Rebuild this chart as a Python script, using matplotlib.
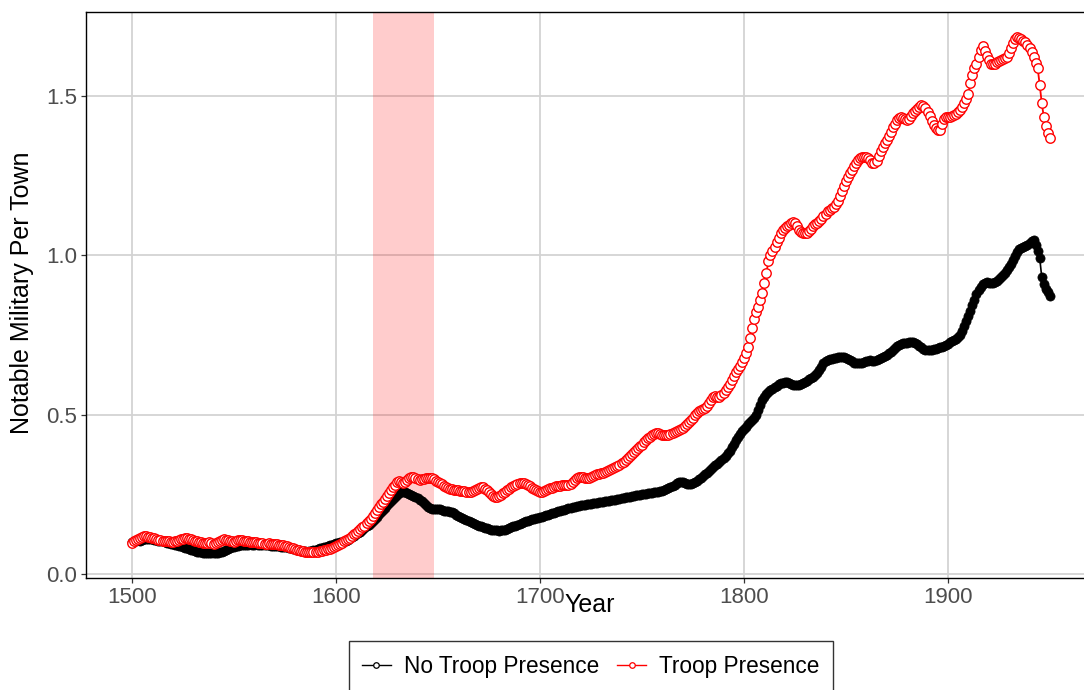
import numpy as np
import matplotlib
matplotlib.use("Agg")
import matplotlib.pyplot as plt
from matplotlib.lines import Line2D

plt.rcParams['font.family'] = ['Liberation Sans', 'DejaVu Sans']

# years covered by both series
years = np.arange(1500, 1951)

# Notable military per town, towns without troops (one per year)
no_troop = [
    0.100, 0.102, 0.104, 0.106, 0.105, 0.107, 0.109, 0.110, 0.111, 0.110,
    0.110, 0.108, 0.107, 0.105, 0.104, 0.103, 0.100, 0.098, 0.096, 0.095,
    0.094, 0.092, 0.090, 0.088, 0.087, 0.085, 0.083, 0.080, 0.078, 0.076,
    0.074, 0.072, 0.070, 0.069, 0.068, 0.067, 0.066, 0.066, 0.065, 0.066,
    0.066, 0.066, 0.067, 0.068, 0.070, 0.072, 0.075, 0.078, 0.081, 0.084,
    0.086, 0.088, 0.089, 0.090, 0.090, 0.091, 0.092, 0.092, 0.093, 0.092,
    0.092, 0.093, 0.092, 0.091, 0.091, 0.090, 0.090, 0.090, 0.089, 0.089,
    0.088, 0.088, 0.087, 0.086, 0.085, 0.085, 0.084, 0.082, 0.080, 0.078,
    0.077, 0.076, 0.074, 0.073, 0.072, 0.071, 0.070, 0.071, 0.072, 0.074,
    0.076, 0.078, 0.080, 0.082, 0.084, 0.086, 0.088, 0.090, 0.092, 0.094,
    0.096, 0.098, 0.099, 0.100, 0.102, 0.105, 0.108, 0.112, 0.116, 0.120,
    0.124, 0.128, 0.133, 0.138, 0.143, 0.149, 0.155, 0.161, 0.167, 0.174,
    0.180, 0.187, 0.194, 0.201, 0.208, 0.215, 0.222, 0.229, 0.236, 0.242,
    0.248, 0.253, 0.257, 0.258, 0.257, 0.255, 0.252, 0.249, 0.246, 0.242,
    0.238, 0.233, 0.228, 0.222, 0.216, 0.211, 0.207, 0.205, 0.204, 0.204,
    0.205, 0.204, 0.202, 0.199, 0.197, 0.196, 0.195, 0.193, 0.190, 0.186,
    0.183, 0.180, 0.177, 0.174, 0.170, 0.167, 0.164, 0.161, 0.158, 0.155,
    0.152, 0.150, 0.147, 0.145, 0.143, 0.141, 0.139, 0.138, 0.137, 0.137,
    0.136, 0.137, 0.138, 0.139, 0.141, 0.143, 0.146, 0.149, 0.152, 0.155,
    0.158, 0.160, 0.163, 0.165, 0.167, 0.169, 0.171, 0.173, 0.175, 0.177,
    0.178, 0.180, 0.182, 0.184, 0.186, 0.188, 0.190, 0.192, 0.194, 0.196,
    0.198, 0.200, 0.202, 0.204, 0.206, 0.207, 0.209, 0.211, 0.213, 0.214,
    0.215, 0.216, 0.217, 0.219, 0.220, 0.221, 0.222, 0.223, 0.224, 0.225,
    0.226, 0.227, 0.228, 0.229, 0.230, 0.231, 0.232, 0.233, 0.234, 0.236,
    0.238, 0.239, 0.240, 0.242, 0.243, 0.245, 0.246, 0.247, 0.248, 0.249,
    0.250, 0.251, 0.252, 0.253, 0.254, 0.255, 0.256, 0.257, 0.258, 0.259,
    0.261, 0.263, 0.266, 0.269, 0.272, 0.276, 0.280, 0.284, 0.287, 0.288,
    0.287, 0.285, 0.283, 0.282, 0.283, 0.285, 0.288, 0.292, 0.297, 0.302,
    0.307, 0.312, 0.318, 0.324, 0.330, 0.336, 0.341, 0.346, 0.351, 0.357,
    0.363, 0.370, 0.378, 0.387, 0.397, 0.408, 0.419, 0.430, 0.440, 0.448,
    0.455, 0.462, 0.470, 0.477, 0.482, 0.488, 0.500, 0.515, 0.530, 0.545,
    0.555, 0.563, 0.570, 0.576, 0.580, 0.585, 0.590, 0.595, 0.598, 0.600,
    0.602, 0.602, 0.600, 0.597, 0.594, 0.592, 0.592, 0.594, 0.597, 0.600,
    0.603, 0.606, 0.610, 0.614, 0.618, 0.623, 0.630, 0.640, 0.650, 0.660,
    0.667, 0.671, 0.673, 0.674, 0.676, 0.678, 0.679, 0.680, 0.680, 0.679,
    0.677, 0.674, 0.670, 0.667, 0.663, 0.661, 0.660, 0.661, 0.663, 0.665,
    0.667, 0.669, 0.670, 0.669, 0.668, 0.670, 0.673, 0.677, 0.681, 0.685,
    0.688, 0.692, 0.697, 0.703, 0.709, 0.714, 0.718, 0.721, 0.723, 0.724,
    0.725, 0.726, 0.727, 0.727, 0.725, 0.721, 0.716, 0.711, 0.706, 0.703,
    0.702, 0.702, 0.703, 0.705, 0.707, 0.709, 0.711, 0.713, 0.716, 0.719,
    0.722, 0.726, 0.730, 0.733, 0.737, 0.742, 0.750, 0.762, 0.776, 0.792,
    0.808, 0.824, 0.842, 0.860, 0.877, 0.890, 0.900, 0.908, 0.913, 0.915,
    0.913, 0.912, 0.913, 0.916, 0.920, 0.925, 0.931, 0.938, 0.945, 0.953,
    0.962, 0.973, 0.985, 0.998, 1.010, 1.018, 1.022, 1.025, 1.028, 1.032,
    1.038, 1.045, 1.046, 1.030, 1.012, 0.990, 0.930, 0.910, 0.895, 0.883,
    0.872,
]

# Notable military per town, towns with troops
troop = [
    0.098, 0.102, 0.106, 0.110, 0.112, 0.115, 0.118, 0.119, 0.117, 0.115,
    0.114, 0.112, 0.110, 0.108, 0.106, 0.105, 0.104, 0.103, 0.102, 0.101,
    0.100, 0.102, 0.104, 0.106, 0.109, 0.111, 0.112, 0.112, 0.111, 0.110,
    0.108, 0.105, 0.102, 0.100, 0.099, 0.098, 0.097, 0.098, 0.100, 0.097,
    0.095, 0.096, 0.099, 0.103, 0.107, 0.109, 0.108, 0.106, 0.104, 0.102,
    0.101, 0.103, 0.106, 0.108, 0.107, 0.105, 0.103, 0.102, 0.101, 0.100,
    0.100, 0.099, 0.098, 0.097, 0.096, 0.095, 0.095, 0.096, 0.095, 0.094,
    0.094, 0.093, 0.092, 0.091, 0.090, 0.089, 0.088, 0.086, 0.083, 0.080,
    0.078, 0.076, 0.074, 0.072, 0.071, 0.070, 0.069, 0.069, 0.068, 0.068,
    0.069, 0.070, 0.071, 0.072, 0.074, 0.075, 0.077, 0.079, 0.081, 0.084,
    0.087, 0.090, 0.094, 0.098, 0.102, 0.106, 0.110, 0.114, 0.119, 0.124,
    0.129, 0.134, 0.140, 0.146, 0.152, 0.159, 0.166, 0.174, 0.182, 0.191,
    0.200, 0.209, 0.218, 0.227, 0.236, 0.245, 0.254, 0.263, 0.272, 0.280,
    0.287, 0.292, 0.290, 0.286, 0.289, 0.295, 0.300, 0.303, 0.305, 0.302,
    0.298, 0.296, 0.297, 0.299, 0.301, 0.302, 0.302, 0.300, 0.297, 0.292,
    0.288, 0.285, 0.281, 0.277, 0.274, 0.271, 0.268, 0.266, 0.264, 0.263,
    0.262, 0.261, 0.260, 0.259, 0.258, 0.258, 0.258, 0.259, 0.262, 0.266,
    0.270, 0.273, 0.272, 0.268, 0.262, 0.256, 0.250, 0.246, 0.243, 0.242,
    0.244, 0.248, 0.253, 0.258, 0.263, 0.268, 0.272, 0.276, 0.279, 0.282,
    0.284, 0.285, 0.285, 0.283, 0.280, 0.276, 0.271, 0.266, 0.262, 0.259,
    0.257, 0.258, 0.260, 0.263, 0.266, 0.269, 0.271, 0.273, 0.275, 0.276,
    0.277, 0.278, 0.278, 0.279, 0.280, 0.283, 0.288, 0.294, 0.300, 0.304,
    0.305, 0.303, 0.300, 0.300, 0.301, 0.303, 0.306, 0.309, 0.312, 0.314,
    0.316, 0.318, 0.320, 0.322, 0.325, 0.328, 0.331, 0.334, 0.338, 0.342,
    0.347, 0.352, 0.358, 0.364, 0.370, 0.376, 0.382, 0.388, 0.394, 0.400,
    0.406, 0.413, 0.419, 0.425, 0.431, 0.436, 0.440, 0.442, 0.441, 0.439,
    0.437, 0.436, 0.436, 0.437, 0.439, 0.441, 0.444, 0.447, 0.450, 0.454,
    0.458, 0.463, 0.469, 0.476, 0.483, 0.490, 0.497, 0.504, 0.510, 0.514,
    0.517, 0.521, 0.528, 0.537, 0.547, 0.555, 0.557, 0.555, 0.556, 0.560,
    0.567, 0.576, 0.585, 0.596, 0.608, 0.620, 0.632, 0.643, 0.653, 0.664,
    0.676, 0.692, 0.712, 0.740, 0.770, 0.798, 0.820, 0.838, 0.858, 0.882,
    0.912, 0.943, 0.980, 1.000, 1.012, 1.025, 1.040, 1.055, 1.068, 1.078,
    1.085, 1.090, 1.095, 1.100, 1.104, 1.100, 1.090, 1.080, 1.073, 1.070,
    1.068, 1.070, 1.075, 1.083, 1.090, 1.096, 1.100, 1.106, 1.114, 1.122,
    1.130, 1.137, 1.142, 1.147, 1.152, 1.160, 1.170, 1.185, 1.202, 1.218,
    1.232, 1.245, 1.258, 1.268, 1.278, 1.288, 1.297, 1.303, 1.306, 1.307,
    1.307, 1.305, 1.298, 1.290, 1.288, 1.295, 1.310, 1.325, 1.338, 1.350,
    1.360, 1.372, 1.386, 1.400, 1.412, 1.422, 1.430, 1.432, 1.430, 1.425,
    1.423, 1.428, 1.437, 1.446, 1.452, 1.458, 1.464, 1.469, 1.468, 1.460,
    1.448, 1.435, 1.420, 1.408, 1.398, 1.392, 1.392, 1.410, 1.425, 1.432,
    1.433, 1.434, 1.436, 1.438, 1.442, 1.447, 1.455, 1.465, 1.478, 1.490,
    1.505, 1.539, 1.565, 1.585, 1.600, 1.620, 1.642, 1.655, 1.640, 1.625,
    1.610, 1.600, 1.598, 1.600, 1.604, 1.608, 1.612, 1.616, 1.617, 1.620,
    1.635, 1.650, 1.665, 1.676, 1.683, 1.682, 1.678, 1.672, 1.667, 1.660,
    1.650, 1.636, 1.620, 1.602, 1.585, 1.533, 1.476, 1.433, 1.405, 1.382,
    1.367,
]

# Thirty Years' War band
war_start, war_end = 1618, 1648

x_ticks = [1500, 1600, 1700, 1800, 1900]
y_ticks = [0.0, 0.5, 1.0, 1.5]
y_tick_labels = ['0.0', '0.5', '1.0', '1.5']

W, H = 1084, 690
fig = plt.figure(figsize=(W / 100, H / 100), dpi=100)
# panel box in pixels: left 86, top 12, bottom 578, right edge cut by the image
ax = fig.add_axes([86 / W, 1 - 578 / H, 1 - 86 / W, (578 - 12) / H])

ax.axvspan(war_start, war_end, color='red', alpha=0.2, lw=0, zorder=1)

ax.plot(years, no_troop, color='black', lw=1.2, marker='o', ms=6.6,
        mfc='black', mec='black', mew=0.5, zorder=3)
ax.plot(years, troop, color='red', lw=1.3, marker='o', ms=6.8,
        mfc='white', mec='red', mew=1.0, zorder=4)

ax.set_xlim(1477.5, 1966.7)
ax.set_ylim(-0.0125, 1.762)
ax.set_xticks(x_ticks)
ax.set_yticks(y_ticks)
ax.set_yticklabels(y_tick_labels)

ax.grid(True, color='#d3d3d3', lw=1.3, zorder=0)
ax.set_axisbelow(True)
ax.tick_params(axis='both', labelsize=16, colors='#4d4d4d', length=3.5,
               width=0.9, pad=3)
ax.tick_params(axis='both', color='#333333')
for side in ['left', 'top', 'bottom']:
    ax.spines[side].set_color('black')
    ax.spines[side].set_linewidth(1.0)
ax.spines['right'].set_visible(False)

# axis titles sit where the original put them
fig.text(590 / W, 1 - 605 / H, 'Year', ha='center', va='center', fontsize=18)
fig.text(22 / W, 1 - 293 / H, 'Notable Military Per Town', ha='center',
         va='center', rotation=90, fontsize=18)

handles = [
    Line2D([], [], color='black', lw=1.0, marker='o', ms=4, mfc='white',
           mec='black', mew=0.9),
    Line2D([], [], color='red', lw=1.0, marker='o', ms=4, mfc='white',
           mec='red', mew=0.9),
]
leg = fig.legend(handles, ['No Troop Presence', 'Troop Presence'], ncol=2,
                 loc='upper center', bbox_to_anchor=(591 / W, 1 - 641 / H),
                 borderaxespad=0, fontsize=16.3, frameon=True, fancybox=False,
                 borderpad=0.6, handlelength=1.25, handletextpad=0.6,
                 columnspacing=0.8)
leg.get_frame().set_edgecolor('black')
leg.get_frame().set_linewidth(1.0)

fig.savefig('out.png', dpi=100)
